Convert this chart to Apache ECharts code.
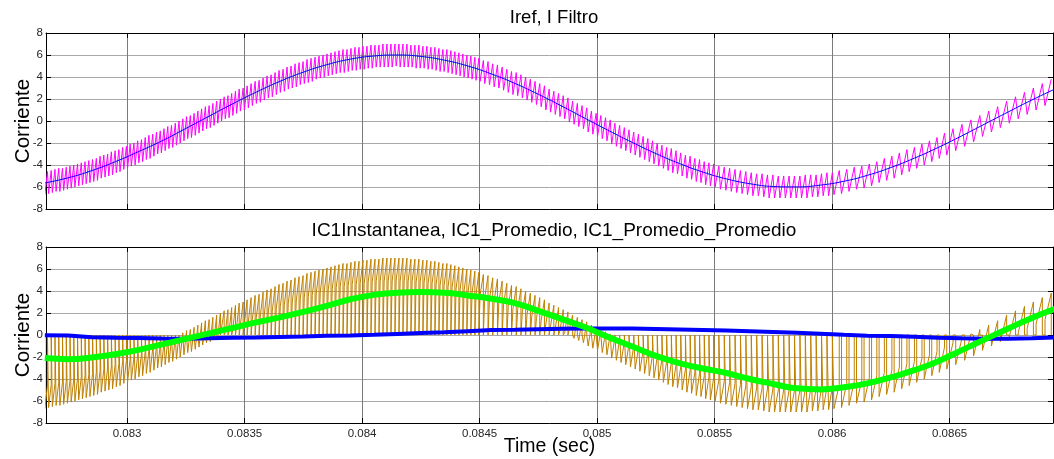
<!DOCTYPE html>
<html>
<head>
<meta charset="utf-8">
<script src="https://cdn.jsdelivr.net/npm/echarts@6/dist/echarts.min.js"></script>
<style>html,body{margin:0;padding:0;background:#fff}#c{width:1054px;height:459px}</style>
</head>
<body>
<div id="c"></div>
<script>
// ---------------- DATA ----------------
// x-axis tick values (seconds)
const timeTicks = [0.083, 0.0835, 0.084, 0.0845, 0.085, 0.0855, 0.086, 0.0865];

// smooth signals sampled every 0.1 ms starting at 0.08265 s
const sampleStart = 0.08265;
const sampleStep = 0.0001;
const irefVals = [-5.63,-5.16,-4.51,-3.70,-2.77,-1.79,-0.68,0.45,1.57,2.63,3.60,4.44,5.12,5.62,5.91,6.00,5.87,5.53,5.00,4.28,3.42,2.43,1.35,0.23,-0.88,-1.95,-2.96,-3.86,-4.64,-5.26,-5.70,-5.95,-5.99,-5.83,-5.48,-4.94,-4.23,-3.38,-2.42,-1.37,-0.27,0.83,1.91,2.92];
const ic1PromedioVals = [-2.1,-2.2,-2.05,-1.75,-1.35,-0.85,-0.35,0.15,0.65,1.15,1.6,2.1,2.65,3.25,3.65,3.85,3.9,3.85,3.6,3.3,2.9,2.2,1.45,0.7,-0.2,-1.05,-1.9,-2.55,-3.05,-3.45,-4.0,-4.45,-4.85,-4.95,-4.75,-4.4,-3.85,-3.2,-2.4,-1.4,-0.4,0.6,1.55,2.4];
const ic1PromPromVals = [-0.02,-0.05,-0.2,-0.25,-0.28,-0.32,-0.35,-0.3,-0.24,-0.22,-0.18,-0.14,-0.06,-0.05,0.02,0.1,0.18,0.25,0.35,0.45,0.48,0.52,0.56,0.6,0.6,0.58,0.55,0.5,0.45,0.4,0.35,0.28,0.2,0.12,0.02,-0.06,-0.1,-0.15,-0.25,-0.3,-0.33,-0.33,-0.3,-0.22];

// switching ripple: groups of [number of cycles, cycle period in microseconds]
const rippleSegments = [[52,16],[60,17],[50,20],[22,23],[15,32],[12,38]];
const riseFraction = 0.7; // share of each cycle spent rising (valley -> peak)
// I Filtro value at the start of each cycle (valley) and at its peak
const filtroValley = [
-6.7,-6.6,-6.5,-6.4,-6.4,-6.3,-6.2,-6.1,-6.0,-5.9,-5.8,-5.7,-5.6,-5.5,-5.4,-5.2,-5.1,-5.0,-4.9,-4.7,-4.6,-4.4,-4.3,-4.1,-4.0,-3.8,-3.7,-3.5,-3.4,-3.2,-3.0,-2.9,-2.7,-2.5,-2.4,-2.2,-2.0,-1.8,-1.6,-1.5,-1.3,-1.1,-0.9,-0.7,-0.6,-0.4,-0.2,0.0,0.2,0.3,0.5,0.7,
0.9,1.0,1.2,1.4,1.6,1.7,1.9,2.1,2.2,2.4,2.6,2.7,2.9,3.0,3.1,3.3,3.4,3.5,3.6,3.8,3.9,4.0,4.1,4.2,4.3,4.4,4.4,4.5,4.6,4.6,4.7,4.7,4.8,4.8,4.9,4.9,4.9,4.9,4.9,5.0,4.9,4.9,4.9,4.9,4.8,4.8,4.8,4.7,4.7,4.6,4.5,4.5,4.4,4.3,4.2,4.1,4.0,3.9,3.8,3.7,
3.6,3.4,3.3,3.1,3.0,2.8,2.6,2.4,2.3,2.1,1.9,1.7,1.5,1.3,1.0,0.8,0.6,0.4,0.2,-0.1,-0.3,-0.5,-0.7,-1.0,-1.2,-1.4,-1.6,-1.8,-2.1,-2.3,-2.5,-2.7,-2.9,-3.1,-3.3,-3.5,-3.7,-3.9,-4.1,-4.3,-4.5,-4.7,-4.8,-5.0,-5.2,-5.3,-5.5,-5.6,-5.8,-5.9,
-6.0,-6.2,-6.3,-6.4,-6.5,-6.6,-6.7,-6.8,-6.8,-6.9,-7.0,-7.0,-7.0,-7.0,-7.0,-7.0,-7.0,-7.0,-6.9,-6.9,-6.8,-6.8,
-6.7,-6.6,-6.4,-6.2,-6.1,-5.9,-5.6,-5.4,-5.2,-4.9,-4.6,-4.3,-4.0,-3.7,-3.4,
-3.1,-2.7,-2.3,-1.9,-1.4,-1.0,-0.6,-0.2,0.2,0.6,1.0,1.4];
const filtroPeak = [
-4.6,-4.5,-4.4,-4.3,-4.3,-4.2,-4.1,-4.0,-3.9,-3.8,-3.7,-3.6,-3.5,-3.4,-3.2,-3.1,-3.0,-2.8,-2.7,-2.6,-2.4,-2.3,-2.1,-2.0,-1.8,-1.7,-1.5,-1.3,-1.2,-1.0,-0.9,-0.7,-0.5,-0.4,-0.2,0.0,0.2,0.4,0.5,0.7,0.9,1.1,1.3,1.4,1.6,1.8,2.0,2.2,2.3,2.5,2.7,2.9,
3.0,3.2,3.4,3.6,3.7,3.9,4.1,4.2,4.4,4.6,4.7,4.9,5.0,5.2,5.3,5.4,5.6,5.7,5.8,5.9,6.0,6.1,6.2,6.3,6.4,6.5,6.5,6.6,6.7,6.7,6.8,6.8,6.9,6.9,6.9,7.0,7.0,7.0,7.0,7.0,7.0,7.0,6.9,6.9,6.9,6.8,6.8,6.7,6.7,6.6,6.5,6.5,6.4,6.3,6.2,6.1,6.0,5.9,5.8,5.7,
5.5,5.4,5.2,5.1,4.9,4.7,4.5,4.4,4.2,4.0,3.8,3.6,3.4,3.2,2.9,2.7,2.5,2.3,2.1,1.8,1.6,1.4,1.2,0.9,0.7,0.5,0.3,0.1,-0.2,-0.4,-0.6,-0.8,-1.0,-1.2,-1.4,-1.6,-1.8,-2.0,-2.2,-2.4,-2.5,-2.7,-2.9,-3.1,-3.2,-3.4,-3.5,-3.7,-3.8,-3.9,
-4.1,-4.2,-4.3,-4.4,-4.5,-4.6,-4.7,-4.8,-4.8,-4.9,-4.9,-5.0,-5.0,-5.0,-5.0,-5.0,-4.9,-4.9,-4.9,-4.8,-4.7,-4.7,
-4.5,-4.4,-4.2,-4.1,-3.9,-3.7,-3.4,-3.2,-2.9,-2.6,-2.4,-2.1,-1.8,-1.5,-1.1,
-0.7,-0.3,0.1,0.5,0.9,1.3,1.8,2.2,2.6,3.0,3.4,3.8];
// IC1Instantanea: follows I Filtro during the rising interval of each cycle, 0 otherwise

// ---------------- BUILD SERIES TABLES ----------------
const sampleTimes = irefVals.map((_, i) => +(sampleStart + i * sampleStep).toFixed(6));
const pair = (vals) => vals.map((v, i) => [sampleTimes[i], v]);

const cycleStartUs = [], cyclePeriodUs = [];
let acc = 0;
rippleSegments.forEach(([n, p]) => { for (let j = 0; j < n; j++) { cycleStartUs.push(acc); cyclePeriodUs.push(p); acc += p; } });
const usToT = us => sampleStart + us * 1e-6;
const filtroData = [], ic1Data = [];
const nCycles = Math.min(cycleStartUs.length, filtroValley.length, filtroPeak.length);
for (let i = 0; i < nCycles; i++) {
  const t0 = usToT(cycleStartUs[i]);
  const t1 = usToT(cycleStartUs[i] + riseFraction * cyclePeriodUs[i]);
  filtroData.push([t0, filtroValley[i]], [t1, filtroPeak[i]]);
  ic1Data.push([t0, 0], [t0, filtroValley[i]], [t1, filtroPeak[i]], [t1, 0]);
}

// ---------------- CHART ----------------
const FONT = '"Liberation Sans", Arial, Helvetica, sans-serif';
const X_MIN = 0.082655, X_MAX = 0.08694;

function xAx(grid, position, showLabels, showGrid, name) {
  return {
    type: 'value', gridIndex: grid, position: position, min: X_MIN, max: X_MAX,
    name: name || '', nameLocation: 'middle', nameGap: 14, nameMoveOverlap: false,
    nameTextStyle: { fontFamily: FONT, fontSize: 19.5, color: '#000' },
    axisLine: { show: true, onZero: false, lineStyle: { color: '#000', width: 1 } },
    axisTick: { show: true, inside: true, length: 5, customValues: timeTicks, lineStyle: { color: '#000' } },
    axisLabel: { show: showLabels, customValues: timeTicks, margin: 5, fontFamily: FONT, fontSize: 11.5, color: '#262626',
      formatter: v => String(Number(v.toFixed(5))) },
    splitLine: { show: showGrid, lineStyle: { color: '#7a7a7a', width: 1 } }
  };
}
function yAx(grid, position, showLabels, showGrid, name) {
  return {
    type: 'value', gridIndex: grid, position: position, min: -8, max: 8, interval: 2,
    name: name || '', nameLocation: 'middle', nameGap: 12, nameRotate: 90, nameMoveOverlap: false,
    nameTextStyle: { fontFamily: FONT, fontSize: 20.5, color: '#000' },
    axisLine: { show: true, onZero: false, lineStyle: { color: '#000', width: 1 } },
    axisTick: { show: true, inside: true, length: 5, lineStyle: { color: '#000' } },
    axisLabel: { show: showLabels, margin: 3, fontFamily: FONT, fontSize: 11.5, color: '#262626' },
    splitLine: { show: showGrid, lineStyle: { color: '#a8a8a8', width: 1 } }
  };
}

const chart = echarts.init(document.getElementById('c'), null, { renderer: 'canvas' });
chart.setOption({
  animation: false,
  backgroundColor: '#ffffff',
  title: [
    { text: 'Iref, I Filtro', left: 549, top: 3, textAlign: 'center',
      textStyle: { fontFamily: FONT, fontSize: 18.5, fontWeight: 'normal', color: '#000' } },
    { text: 'IC1Instantanea, IC1_Promedio, IC1_Promedio_Promedio', left: 549, top: 216, textAlign: 'center',
      textStyle: { fontFamily: FONT, fontSize: 19, fontWeight: 'normal', color: '#000' } }
  ],
  grid: [
    { left: 46, right: 1, top: 33, height: 176, containLabel: false, outerBoundsMode: 'none' },
    { left: 46, right: 1, top: 247, height: 176, containLabel: false, outerBoundsMode: 'none' }
  ],
  xAxis: [
    xAx(0, 'bottom', false, true),
    xAx(0, 'top', false, false),
    xAx(1, 'bottom', true, true, 'Time (sec)'),
    xAx(1, 'top', false, false)
  ],
  yAxis: [
    yAx(0, 'left', true, true, 'Corriente'),
    yAx(0, 'right', false, false),
    yAx(1, 'left', true, true, 'Corriente'),
    yAx(1, 'right', false, false)
  ],
  series: [
    { name: 'I Filtro', type: 'line', xAxisIndex: 0, yAxisIndex: 0, data: filtroData,
      symbol: 'none', silent: true, z: 2, lineStyle: { color: '#ff00ff', width: 1 } },
    { name: 'Iref', type: 'line', xAxisIndex: 0, yAxisIndex: 0, data: pair(irefVals), smooth: true,
      symbol: 'none', silent: true, z: 3, lineStyle: { color: '#0000ff', width: 1 } },
    { name: 'IC1Instantanea', type: 'line', xAxisIndex: 2, yAxisIndex: 2, data: ic1Data,
      symbol: 'none', silent: true, z: 2, lineStyle: { color: '#bf8000', width: 1 } },
    { name: 'IC1_Promedio_Promedio', type: 'line', xAxisIndex: 2, yAxisIndex: 2, data: pair(ic1PromPromVals),
      symbol: 'none', silent: true, z: 3, lineStyle: { color: '#0000ff', width: 4 } },
    { name: 'IC1_Promedio', type: 'line', xAxisIndex: 2, yAxisIndex: 2, data: pair(ic1PromedioVals), smooth: true,
      symbol: 'none', silent: true, z: 4, lineStyle: { color: '#00ff00', width: 6 } }
  ]
});
</script>
</body>
</html>
